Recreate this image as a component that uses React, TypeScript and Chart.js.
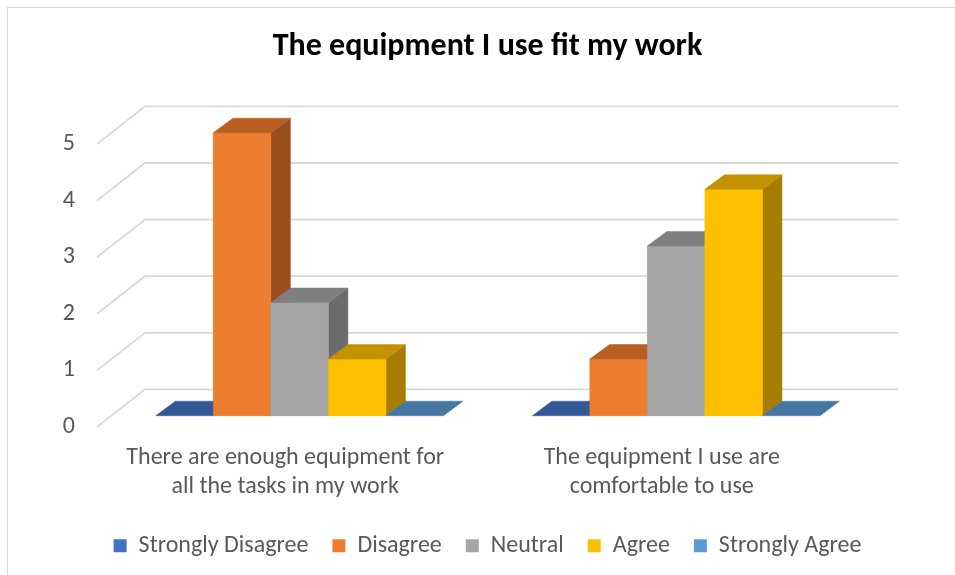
import React, { useEffect, useRef } from "react";
import { Chart, registerables } from "chart.js";

Chart.register(...registerables);

// Survey question groups (two-line category labels)
const categories: string[][] = [
  ["There are enough equipment for", "all the tasks in my work"],
  ["The equipment I use are", "comfortable to use"],
];
const seriesNames = ["Strongly Disagree", "Disagree", "Neutral", "Agree", "Strongly Agree"];

// Response counts per category
const stronglyDisagree = [0, 0];
const disagree = [5, 1];
const neutral = [2, 3];
const agree = [1, 4];
const stronglyAgree = [0, 0];

const yMin = 0;
const yMax = 5;
const yStep = 1;

const frontColors = ["#4472C4", "#ED7D31", "#A5A5A5", "#FFC000", "#5B9BD5"];
const topColors = ["#345897", "#B85E23", "#7F7F7F", "#C29200", "#4677A3"];
const sideColors = ["#2B4A80", "#9A4D1D", "#6B6B6B", "#A67D00", "#3D678D"];

const FONT = "Calibri, Carlito, Lato, sans-serif";
const TEXT = "#595959";
const GRID = "#d9d9d9";
const FONT_SIZE = 24;

// Oblique projection offsets relative to the bar plane
const BAR_DEPTH = { dx: 19.5, dy: -14.5 };
const BACK_WALL = { dx: 33.6, dy: -26.3 };
const FRONT_EDGE = { dx: -14.4, dy: 11.3 };

const framePlugin = {
  id: "frame",
  beforeDraw(chart: any) {
    const ctx = chart.ctx;
    ctx.save();
    ctx.fillStyle = "#ffffff";
    ctx.fillRect(0, 0, chart.width, chart.height);
    ctx.strokeStyle = GRID;
    ctx.lineWidth = 1;
    ctx.strokeRect(7.5, 7.5, chart.width + 40, chart.height + 40);
    ctx.restore();
  },
};

const wallPlugin = {
  id: "walls",
  beforeDatasetsDraw(chart: any) {
    const { ctx, chartArea, scales } = chart;
    const y = scales.y;
    ctx.save();
    ctx.strokeStyle = GRID;
    ctx.lineWidth = 1.8;
    y.ticks.forEach((t: any) => {
      const py = y.getPixelForValue(t.value);
      ctx.beginPath();
      ctx.moveTo(chartArea.left + FRONT_EDGE.dx, py + FRONT_EDGE.dy);
      ctx.lineTo(chartArea.left + BACK_WALL.dx, py + BACK_WALL.dy);
      ctx.lineTo(chartArea.right + BACK_WALL.dx, py + BACK_WALL.dy);
      ctx.stroke();
    });
    ctx.restore();
  },
};

const poly = (ctx: CanvasRenderingContext2D, pts: number[][], color: string) => {
  ctx.beginPath();
  ctx.moveTo(pts[0][0], pts[0][1]);
  for (let i = 1; i < pts.length; i++) ctx.lineTo(pts[i][0], pts[i][1]);
  ctx.closePath();
  ctx.fillStyle = color;
  ctx.fill();
  ctx.strokeStyle = color;
  ctx.lineWidth = 0.5;
  ctx.stroke();
};

// Extrudes each bar into a box: side, top and front faces, painted left to right
const boxPlugin = {
  id: "boxes",
  afterDatasetsDraw(chart: any) {
    const ctx = chart.ctx;
    const items: any[] = [];
    chart.data.datasets.forEach((_ds: any, di: number) => {
      const meta = chart.getDatasetMeta(di);
      meta.data.forEach((el: any) => {
        const p = el.getProps(["x", "y", "base", "width"], true);
        items.push({ l: p.x - p.width / 2, r: p.x + p.width / 2, top: p.y, base: p.base, di });
      });
    });
    items.sort((a, b) => a.l - b.l);
    const { dx, dy } = BAR_DEPTH;
    ctx.save();
    items.forEach((b) => {
      const { l, r, top, base, di } = b;
      if (base - top > 0.5) {
        poly(ctx, [[r, top], [r + dx, top + dy], [r + dx, base + dy], [r, base]], sideColors[di]);
        poly(ctx, [[l, top], [r, top], [r, base], [l, base]], frontColors[di]);
      }
      poly(ctx, [[l, top], [l + dx, top + dy], [r + dx, top + dy], [r, top]], topColors[di]);
    });
    ctx.restore();
  },
};

export default function App() {
  const ref = useRef<HTMLCanvasElement | null>(null);

  useEffect(() => {
    if (!ref.current) return;
    const values = [stronglyDisagree, disagree, neutral, agree, stronglyAgree];
    const chart = new Chart(ref.current, {
      type: "bar",
      data: {
        labels: categories,
        datasets: seriesNames.map((name, i) => ({
          label: name,
          data: values[i],
          backgroundColor: frontColors[i],
          borderWidth: 0,
          categoryPercentage: 0.764,
          barPercentage: 1,
        })),
      },
      options: {
        responsive: false,
        animation: false,
        layout: { padding: { left: 0, right: 0, top: 0, bottom: 7.3 } },
        plugins: {
          title: {
            display: true,
            text: "The equipment I use fit my work",
            color: "#000000",
            font: { family: FONT, size: 32, weight: "bold", lineHeight: 1.2 },
            padding: { top: 27.8, bottom: 66.5 },
          },
          legend: {
            position: "bottom",
            labels: {
              boxWidth: 13,
              boxHeight: 13,
              color: TEXT,
              font: { family: FONT, size: FONT_SIZE },
              padding: 24,
            },
          },
          tooltip: { enabled: false },
        },
        scales: {
          x: {
            grid: { display: false, drawTicks: false },
            border: { display: false },
            ticks: {
              color: TEXT,
              font: { family: FONT, size: FONT_SIZE, lineHeight: 29 / FONT_SIZE },
              labelOffset: FRONT_EDGE.dx,
              padding: 27.8,
              maxRotation: 0,
              autoSkip: false,
            },
            afterFit: (s: any) => {
              s.height = 94;
            },
          },
          y: {
            min: yMin,
            max: yMax,
            grid: { display: false, drawTicks: false },
            border: { display: false },
            ticks: {
              stepSize: yStep,
              color: TEXT,
              font: { family: FONT, size: FONT_SIZE },
              labelOffset: FRONT_EDGE.dy,
              padding: 36.4,
            },
            afterFit: (s: any) => {
              s.width = 111.4;
            },
          },
          depth: {
            position: "right",
            grid: { display: false, drawTicks: false },
            border: { display: false },
            ticks: { display: false },
            afterFit: (s: any) => {
              s.width = 975 - 864.4;
            },
          },
        },
      } as any,
      plugins: [framePlugin, wallPlugin, boxPlugin],
    });
    return () => chart.destroy();
  }, []);

  return (
    <div
      style={{
        position: "fixed",
        left: 0,
        top: 0,
        width: 955,
        height: 575,
        overflow: "hidden",
        background: "#ffffff",
      }}
    >
      <canvas ref={ref} width={975} height={575} style={{ display: "block" }} />
    </div>
  );
}
